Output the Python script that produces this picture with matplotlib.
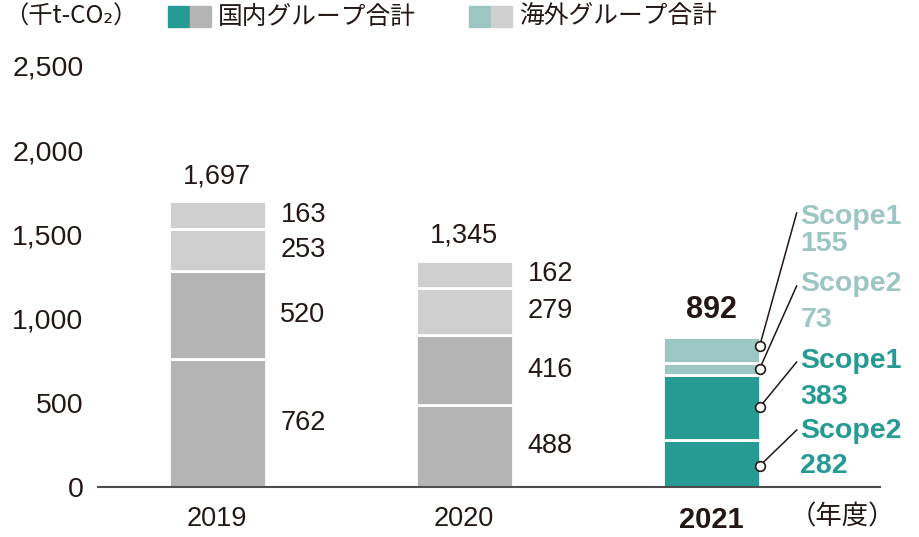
import matplotlib
matplotlib.use("Agg")
import matplotlib.pyplot as plt
from matplotlib.patches import Rectangle

plt.rcParams['font.family'] = ['Liberation Sans', 'Noto Sans CJK JP', 'DejaVu Sans']

years = ["2019", "2020", "2021"]
# stacked bottom -> top: domestic scope2, domestic scope1, overseas scope2, overseas scope1
dom_s2 = [762, 488, 282]
dom_s1 = [520, 416, 383]
ovs_s2 = [253, 279, 73]
ovs_s1 = [163, 162, 155]
totals = ["1,697", "1,345", "892"]
yticks = [0, 500, 1000, 1500, 2000, 2500]
scope_names = ["Scope2", "Scope1", "Scope2", "Scope1"]

TEAL = "#269b94"
LTEAL = "#9cc6c2"
GRAY = "#b4b4b4"
LGRAY = "#cfcfcf"
INK = "#231815"
CJK = ["Noto Sans CJK JP", "DejaVu Sans"]

fig = plt.figure(figsize=(9.2, 5.37), dpi=100)
ax = fig.add_axes([98 / 920, 50 / 537, 782 / 920, 421 / 537])
ax.set_xlim(-0.482, 2.684)
ax.set_ylim(0, 2500)

width = 0.393
layers = [dom_s2, dom_s1, ovs_s2, ovs_s1]
for i, yr in enumerate(years):
    last = (i == len(years) - 1)
    colors = [TEAL, TEAL, LTEAL, LTEAL] if last else [GRAY, GRAY, LGRAY, LGRAY]
    bottom = 0
    mids = []
    for layer, col in zip(layers, colors):
        v = layer[i]
        ax.bar(i, v, width, bottom=bottom, color=col, edgecolor="white", linewidth=2)
        mids.append(bottom + v / 2)
        bottom += v
    ax.text(i, bottom + 70, totals[i], ha="center", va="bottom",
            fontsize=22 if last else 19.5, color=INK,
            fontweight="bold" if last else "normal")
    if not last:
        for m, layer in zip(mids, layers):
            ax.text(i + width / 2 + 0.06, m, str(layer[i]), ha="left", va="center",
                    fontsize=19.5, color=INK)
    else:
        xr = i + width / 2
        # label positions (data y) for scope texts, bottom -> top
        lab_y = [332, 748, 1205, 1603]
        num_y = [125, 534, 992, 1443]
        line_end = [338, 742, 1194, 1627]
        label_cols = [TEAL, TEAL, LTEAL, LTEAL]
        dot_y = [125, mids[1], mids[2], mids[3] + 20]
        for k, layer in enumerate(layers):
            ax.plot([xr, xr + 0.15], [dot_y[k], line_end[k]], color=INK, lw=1.1,
                    zorder=4, clip_on=False)
            ax.plot(xr, dot_y[k], "o", ms=7, mfc="white", mec=INK, mew=1.2,
                    zorder=5, clip_on=False)
            ax.text(xr + 0.165, lab_y[k], scope_names[k], ha="left", va="center",
                    fontsize=20.5, fontweight="bold", color=label_cols[k])
            ax.text(xr + 0.165, num_y[k], str(layer[i]), ha="left", va="center",
                    fontsize=20.5, fontweight="bold", color=label_cols[k])

ax.set_yticks(yticks)
ax.set_yticklabels([f"{t:,}" for t in yticks], fontsize=20.5, color=INK)
ax.set_xticks(range(len(years)))
ax.set_xticklabels(years, fontsize=19.5, color=INK)
ax.get_xticklabels()[-1].set_fontweight("bold")
ax.get_xticklabels()[-1].set_fontsize(21)
ax.tick_params(axis="y", length=0, pad=10.5)
ax.tick_params(axis="x", length=0, pad=14)
for s in ["top", "right", "left"]:
    ax.spines[s].set_visible(False)
ax.spines["bottom"].set_color("#4d4d4d")
ax.spines["bottom"].set_linewidth(1.5)

ax.text(1.019, -0.072, "（年度）", transform=ax.transAxes, ha="right", va="center",
        fontsize=19, color=INK, family=CJK)

# unit and legend
fig.text(4 / 920, 1 - 17 / 537, "（千t-CO₂）", ha="left", va="center", fontsize=17.5,
         color=INK, family=CJK)
legend_items = [((168, 190), (TEAL, GRAY), 218, "国内グループ合計"),
                ((469, 491), (LTEAL, LGRAY), 519, "海外グループ合計")]
for (x1, x2), (c1, c2), tx, label in legend_items:
    for xx, cc in ((x1, c1), (x2, c2)):
        fig.patches.append(Rectangle((xx / 920, 1 - 27 / 537), 21 / 920, 21 / 537,
                                     transform=fig.transFigure, color=cc))
    fig.text(tx / 920, 1 - 17 / 537, label, ha="left", va="center", fontsize=17.8,
             color=INK, family=CJK)

fig.savefig("out.png", dpi=100)
